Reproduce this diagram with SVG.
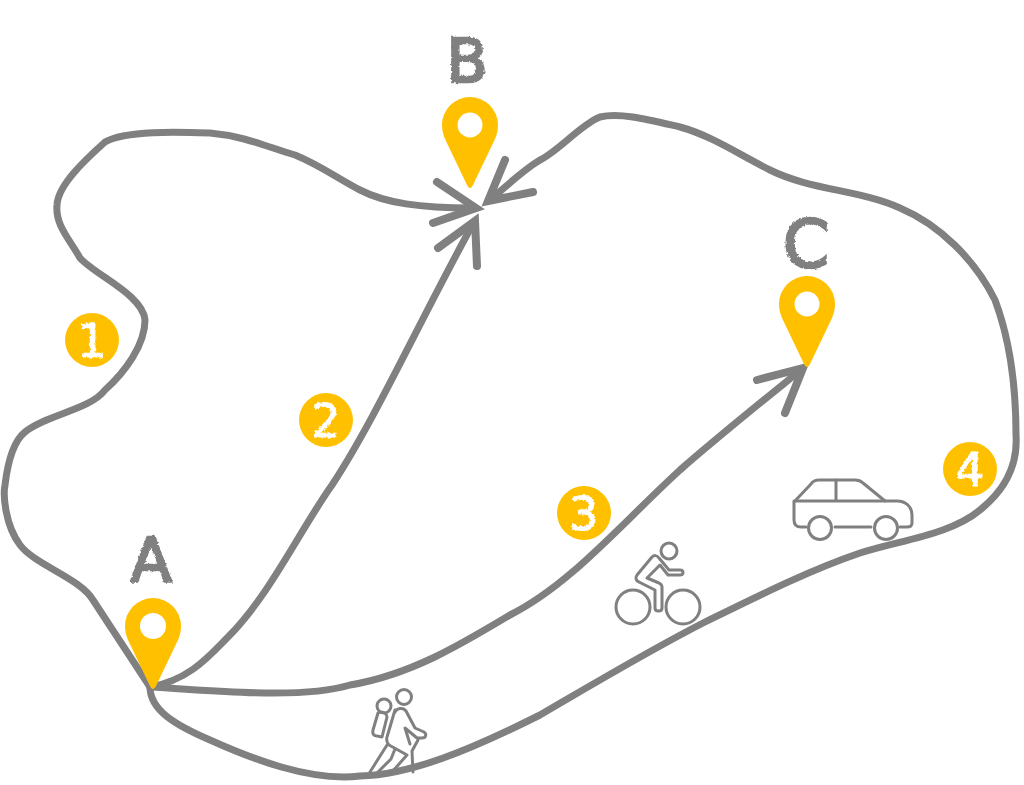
<svg xmlns="http://www.w3.org/2000/svg" width="1024" height="785" viewBox="0 0 1024 785">
<style>
.r{fill:none;stroke:#808080;stroke-width:7;stroke-linecap:round;stroke-linejoin:round}
.h{fill:none;stroke:#808080;stroke-width:8;stroke-linecap:round;stroke-linejoin:miter}
.i{fill:none;stroke:#808080;stroke-width:3;stroke-linecap:round;stroke-linejoin:round}
.pin{fill:#ffc000}
.hole{fill:#fff}
.badge{fill:#ffc000}
.L{font-family:"DejaVu Sans","Liberation Sans",sans-serif;font-size:60px;fill:#808080;stroke:#808080;stroke-width:2.5;text-anchor:middle;filter:url(#rough)}
.n{font-family:"DejaVu Sans","Liberation Sans",sans-serif;font-size:46px;fill:#fff;stroke:#fff;stroke-width:1;text-anchor:middle;filter:url(#rough)}
</style>
<defs>
<filter id="rough" x="-20%" y="-20%" width="140%" height="140%">
<feTurbulence type="fractalNoise" baseFrequency="0.35" numOctaves="2" seed="4"/>
<feDisplacementMap in="SourceGraphic" scale="3.5" xChannelSelector="R" yChannelSelector="G"/>
</filter>
<path id="pinshape" d="M0 63C-1 63-2 62-3 60L-25 14C-27 9-28 5-28 0A28 28 0 0 1 28 0C28 5 27 9 25 14L3 60C2 62 1 63 0 63Z"/>
</defs>
<g id="connectors">
<path id="route1" class="r" d="M150 687L93 600C80 578 35 565 20 545C5 525 3 495 5 485C8 460 15 440 25 432C45 415 90 410 105 390C125 372 145 345 145 320C143 295 95 275 80 258C70 240 55 225 57 205C58 185 85 160 105 142C125 130 180 132 210 133C245 136 270 148 295 155C320 165 340 180 360 190C385 203 420 208 472 208"/>
<path class="h" d="M437 182L476 208L433 223"/>
<path id="route2" class="r" d="M150 687C190 680 210 655 228 637C270 595 300 530 332 485C375 420 420 320 474 222"/>
<path class="h" d="M438 248L475 221L477 266"/>
<path id="route3" class="r" d="M150 687C210 690 300 700 350 685C410 675 460 645 510 615C570 585 620 525 680 470C720 435 770 395 802 369"/>
<path class="h" d="M757 380L803 368L785 413"/>
<path id="route4" class="r" d="M150 687C150 710 175 725 210 740C250 758 310 782 360 776C410 775 470 750 540 715C600 680 650 650 705 622C760 595 810 570 860 553C900 540 950 535 980 510C1005 490 1018 465 1016 435C1016 390 1010 340 995 300C975 260 940 225 900 208C860 190 810 190 770 170C740 155 710 135 680 127C650 120 620 112 600 117C580 125 560 150 540 160C520 172 505 188 490 200"/>
<path class="h" d="M505 160L488 201L533 192"/>
</g>
<g id="pin-a"><use href="#pinshape" class="pin" x="153" y="626"/><circle class="hole" cx="153" cy="626" r="13"/><text class="L" x="151" y="581">A</text></g>
<g id="pin-b"><use href="#pinshape" class="pin" x="470" y="125"/><circle class="hole" cx="470" cy="125" r="12.5"/><text class="L" x="467" y="82">B</text></g>
<g id="pin-c"><use href="#pinshape" class="pin" x="807" y="304"/><circle class="hole" cx="807" cy="304" r="12.5"/><text class="L" x="806" y="267" style="font-size:66px">C</text></g>
<g id="badge-1"><circle class="badge" cx="92" cy="340" r="27"/><text class="n" x="92" y="357">1</text></g>
<g id="badge-2"><circle class="badge" cx="326" cy="420" r="27"/><text class="n" x="326" y="437">2</text></g>
<g id="badge-3"><circle class="badge" cx="584" cy="513" r="27"/><text class="n" x="584" y="530">3</text></g>
<g id="badge-4"><circle class="badge" cx="970" cy="469" r="27"/><text class="n" x="970" y="486">4</text></g>
<g id="hiker">
<circle class="i" cx="404" cy="697" r="7.5"/>
<circle class="i" cx="384" cy="706" r="7"/>
<path class="i" d="M378 713L373 730C372 734 374 736 377 736L382 737L387 717C387 714 384 712 381 712Z"/>
<path class="i" d="M395 712C397 708 403 707 406 711L415 728L424 732C427 734 426 738 422 738L417 738L405 728L410 744"/>
<path class="i" d="M395 710L387 737C386 741 387 743 389 745L407 755L392 772"/>
<path class="i" d="M387 745L370 772M395 749L391 759L378 772"/>
<path class="i" d="M418 740L412 751L413 772"/>
</g>
<g id="cyclist">
<circle class="i" cx="669" cy="551" r="8"/>
<circle class="i" cx="633" cy="607" r="17"/>
<circle class="i" cx="683" cy="607" r="17"/>
<path class="i" d="M662 608L662 587C662 585 661 584 659 583L647 578L660 565L668 575L680 575C684 575 684 570 680 570L669 570L659 558C657 555 654 555 652 557L637 575C635 578 636 581 639 582L655 590L655 608C655 612 662 612 662 608Z"/>
</g>
<g id="car">
<path class="i" d="M806 527L801 527C796 527 794 524 794 520L794 502L811 484C813 481 816 480 819 480L855 480C858 480 861 481 863 483L885 501L897 501C906 501 912 507 912 515L912 523C912 526 910 527 907 527L900 527"/>
<path class="i" d="M794 501L885 501M836 480L836 500M835 527L871 527"/>
<circle class="i" cx="820" cy="528" r="11.5"/>
<circle class="i" cx="886" cy="528" r="11.5"/>
</g>
</svg>
